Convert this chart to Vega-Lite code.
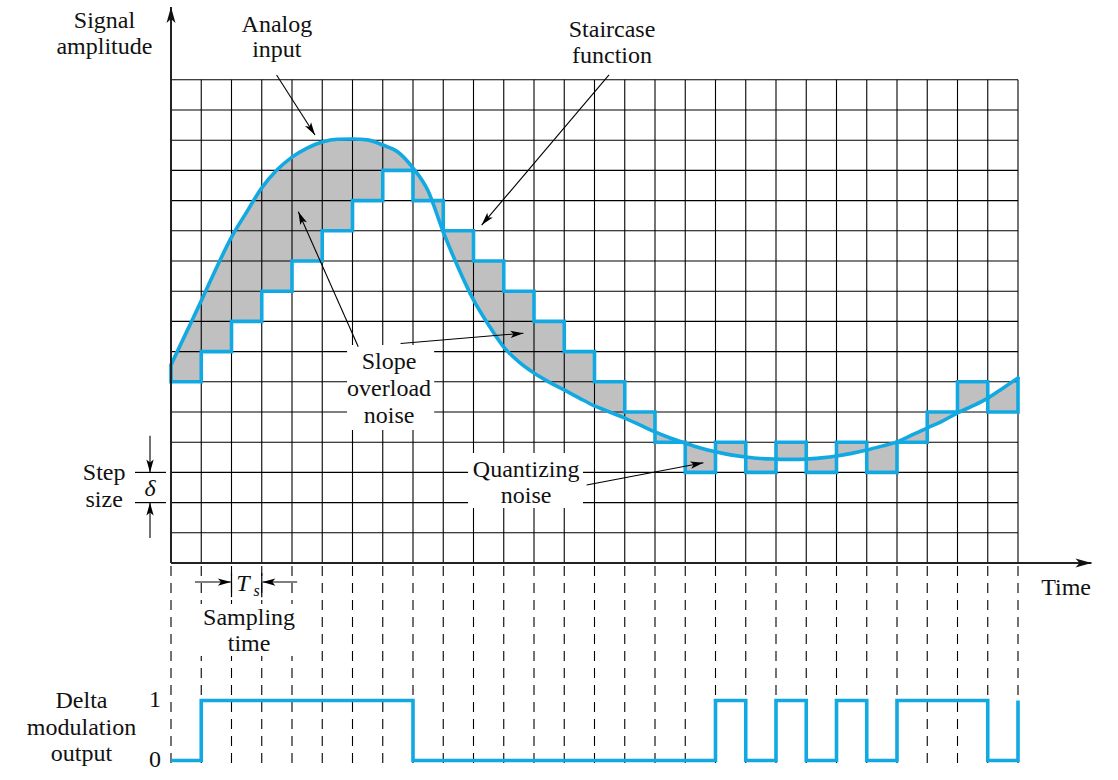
{
  "$schema": "https://vega.github.io/schema/vega-lite/v6.json",
  "width": 1118,
  "height": 780,
  "autosize": {"type": "none"},
  "padding": 0,
  "background": "white",
  "config": {"view": {"stroke": null}, "axis": {"disable": true}, "legend": {"disable": true}},
  "datasets": {
    "fill": [
      {"i":0,"t":0,"analog":6.56,"stair":6},{"i":1,"t":0.5,"analog":7.62,"stair":6},{"i":2,"t":1,"analog":8.68,"stair":6},{"i":3,"t":1,"analog":8.68,"stair":7},
      {"i":4,"t":1.5,"analog":9.77,"stair":7},{"i":5,"t":2,"analog":10.79,"stair":7},{"i":6,"t":2,"analog":10.79,"stair":8},{"i":7,"t":2.5,"analog":11.62,"stair":8},
      {"i":8,"t":3,"analog":12.42,"stair":8},{"i":9,"t":3,"analog":12.42,"stair":9},{"i":10,"t":3.5,"analog":13.01,"stair":9},{"i":11,"t":4,"analog":13.44,"stair":9},
      {"i":12,"t":4,"analog":13.44,"stair":10},{"i":13,"t":4.5,"analog":13.74,"stair":10},{"i":14,"t":5,"analog":13.94,"stair":10},{"i":15,"t":5,"analog":13.94,"stair":11},
      {"i":16,"t":5.5,"analog":14.03,"stair":11},{"i":17,"t":6,"analog":14.04,"stair":11},{"i":18,"t":6,"analog":14.04,"stair":12},{"i":19,"t":6.5,"analog":14.01,"stair":12},
      {"i":20,"t":7,"analog":13.84,"stair":12},{"i":21,"t":7,"analog":13.84,"stair":13},{"i":22,"t":7.5,"analog":13.61,"stair":13},{"i":23,"t":8,"analog":13.08,"stair":13},
      {"i":24,"t":8,"analog":13.08,"stair":12},{"i":25,"t":8.5,"analog":12.32,"stair":12},{"i":26,"t":9,"analog":10.96,"stair":12},{"i":27,"t":9,"analog":10.96,"stair":11},
      {"i":28,"t":9.5,"analog":9.77,"stair":11},{"i":29,"t":10,"analog":8.71,"stair":11},{"i":30,"t":10,"analog":8.71,"stair":10},{"i":31,"t":10.5,"analog":7.88,"stair":10},
      {"i":32,"t":11,"analog":7.15,"stair":10},{"i":33,"t":11,"analog":7.15,"stair":9},{"i":34,"t":11.5,"analog":6.66,"stair":9},{"i":35,"t":12,"analog":6.29,"stair":9},
      {"i":36,"t":12,"analog":6.29,"stair":8},{"i":37,"t":12.5,"analog":5.99,"stair":8},{"i":38,"t":13,"analog":5.73,"stair":8},{"i":39,"t":13,"analog":5.73,"stair":7},
      {"i":40,"t":13.5,"analog":5.46,"stair":7},{"i":41,"t":14,"analog":5.2,"stair":7},{"i":42,"t":14,"analog":5.2,"stair":6},{"i":43,"t":14.5,"analog":5.0,"stair":6},
      {"i":44,"t":15,"analog":4.8,"stair":6},{"i":45,"t":15,"analog":4.8,"stair":5},{"i":46,"t":15.5,"analog":4.57,"stair":5},{"i":47,"t":16,"analog":4.34,"stair":5},
      {"i":48,"t":16,"analog":4.34,"stair":4},{"i":49,"t":16.5,"analog":4.14,"stair":4},{"i":50,"t":17,"analog":3.97,"stair":4},{"i":51,"t":17,"analog":3.97,"stair":3},
      {"i":52,"t":17.5,"analog":3.81,"stair":3},{"i":53,"t":18,"analog":3.68,"stair":3},{"i":54,"t":18,"analog":3.68,"stair":4},{"i":55,"t":18.5,"analog":3.58,"stair":4},
      {"i":56,"t":19,"analog":3.51,"stair":4},{"i":57,"t":19,"analog":3.51,"stair":3},{"i":58,"t":19.5,"analog":3.46,"stair":3},{"i":59,"t":20,"analog":3.44,"stair":3},
      {"i":60,"t":20,"analog":3.44,"stair":4},{"i":61,"t":20.5,"analog":3.43,"stair":4},{"i":62,"t":21,"analog":3.44,"stair":4},{"i":63,"t":21,"analog":3.44,"stair":3},
      {"i":64,"t":21.5,"analog":3.48,"stair":3},{"i":65,"t":22,"analog":3.54,"stair":3},{"i":66,"t":22,"analog":3.54,"stair":4},{"i":67,"t":22.5,"analog":3.63,"stair":4},
      {"i":68,"t":23,"analog":3.74,"stair":4},{"i":69,"t":23,"analog":3.74,"stair":3},{"i":70,"t":23.5,"analog":3.87,"stair":3},{"i":71,"t":24,"analog":4.01,"stair":3},
      {"i":72,"t":24,"analog":4.01,"stair":4},{"i":73,"t":24.5,"analog":4.24,"stair":4},{"i":74,"t":25,"analog":4.47,"stair":4},{"i":75,"t":25,"analog":4.47,"stair":5},
      {"i":76,"t":25.5,"analog":4.7,"stair":5},{"i":77,"t":26,"analog":4.97,"stair":5},{"i":78,"t":26,"analog":4.97,"stair":6},{"i":79,"t":26.5,"analog":5.2,"stair":6},
      {"i":80,"t":27,"analog":5.46,"stair":6},{"i":81,"t":27,"analog":5.46,"stair":5},{"i":82,"t":27.5,"analog":5.79,"stair":5},{"i":83,"t":28,"analog":6.13,"stair":5}
    ],
    "analog": [
      {"t":0,"a":6.56},{"t":0.5,"a":7.62},{"t":1,"a":8.68},{"t":1.5,"a":9.77},{"t":2,"a":10.79},{"t":2.5,"a":11.62},{"t":3,"a":12.42},{"t":3.5,"a":13.01},
      {"t":4,"a":13.44},{"t":4.5,"a":13.74},{"t":5,"a":13.94},{"t":5.5,"a":14.03},{"t":6,"a":14.04},{"t":6.5,"a":14.01},{"t":7,"a":13.84},{"t":7.5,"a":13.61},
      {"t":8,"a":13.08},{"t":8.5,"a":12.32},{"t":9,"a":10.96},{"t":9.5,"a":9.77},{"t":10,"a":8.71},{"t":10.5,"a":7.88},{"t":11,"a":7.15},{"t":11.5,"a":6.66},
      {"t":12,"a":6.29},{"t":12.5,"a":5.99},{"t":13,"a":5.73},{"t":13.5,"a":5.46},{"t":14,"a":5.2},{"t":14.5,"a":5.0},{"t":15,"a":4.8},{"t":15.5,"a":4.57},
      {"t":16,"a":4.34},{"t":16.5,"a":4.14},{"t":17,"a":3.97},{"t":17.5,"a":3.81},{"t":18,"a":3.68},{"t":18.5,"a":3.58},{"t":19,"a":3.51},{"t":19.5,"a":3.46},
      {"t":20,"a":3.44},{"t":20.5,"a":3.43},{"t":21,"a":3.44},{"t":21.5,"a":3.48},{"t":22,"a":3.54},{"t":22.5,"a":3.63},{"t":23,"a":3.74},{"t":23.5,"a":3.87},
      {"t":24,"a":4.01},{"t":24.5,"a":4.24},{"t":25,"a":4.47},{"t":25.5,"a":4.7},{"t":26,"a":4.97},{"t":26.5,"a":5.2},{"t":27,"a":5.46},{"t":27.5,"a":5.79},{"t":28,"a":6.13}
    ],
    "stair": [
      {"i":0,"t":0,"s":6.56},{"i":1,"t":0,"s":6},{"i":2,"t":1,"s":7},{"i":3,"t":2,"s":8},{"i":4,"t":3,"s":9},{"i":5,"t":4,"s":10},{"i":6,"t":5,"s":11},
      {"i":7,"t":6,"s":12},{"i":8,"t":7,"s":13},{"i":9,"t":8,"s":12},{"i":10,"t":9,"s":11},{"i":11,"t":10,"s":10},{"i":12,"t":11,"s":9},{"i":13,"t":12,"s":8},
      {"i":14,"t":13,"s":7},{"i":15,"t":14,"s":6},{"i":16,"t":15,"s":5},{"i":17,"t":16,"s":4},{"i":18,"t":17,"s":3},{"i":19,"t":18,"s":4},{"i":20,"t":19,"s":3},
      {"i":21,"t":20,"s":4},{"i":22,"t":21,"s":3},{"i":23,"t":22,"s":4},{"i":24,"t":23,"s":3},{"i":25,"t":24,"s":4},{"i":26,"t":25,"s":5},{"i":27,"t":26,"s":6},
      {"i":28,"t":27,"s":5},{"i":29,"t":28,"s":6.13}
    ],
    "bits": [
      {"t":0,"b":0},{"t":1,"b":1},{"t":2,"b":1},{"t":3,"b":1},{"t":4,"b":1},{"t":5,"b":1},{"t":6,"b":1},{"t":7,"b":1},{"t":8,"b":0},{"t":9,"b":0},
      {"t":10,"b":0},{"t":11,"b":0},{"t":12,"b":0},{"t":13,"b":0},{"t":14,"b":0},{"t":15,"b":0},{"t":16,"b":0},{"t":17,"b":0},{"t":18,"b":1},{"t":19,"b":0},
      {"t":20,"b":1},{"t":21,"b":0},{"t":22,"b":1},{"t":23,"b":0},{"t":24,"b":1},{"t":25,"b":1},{"t":26,"b":1},{"t":27,"b":0},{"t":28,"b":1}
    ],
    "ticks": [
      {"t":0},{"t":1},{"t":2},{"t":3},{"t":4},{"t":5},{"t":6},{"t":7},{"t":8},{"t":9},{"t":10},{"t":11},{"t":12},{"t":13},{"t":14},
      {"t":15},{"t":16},{"t":17},{"t":18},{"t":19},{"t":20},{"t":21},{"t":22},{"t":23},{"t":24},{"t":25},{"t":26},{"t":27},{"t":28}
    ],
    "levels": [
      {"v":1},{"v":2},{"v":3},{"v":4},{"v":5},{"v":6},{"v":7},{"v":8},{"v":9},{"v":10},{"v":11},{"v":12},{"v":13},{"v":14},{"v":15},{"v":16}
    ],
    "boxes": [
      {"u1":5.82,"u2":8.7,"v1":7.22,"v2":4.4},
      {"u1":9.82,"u2":13.62,"v1":3.64,"v2":1.82},
      {"u1":0.83,"u2":4.26,"v1":-1.36,"v2":-3.08}
    ],
    "segs": [
      {"x1":-1.19,"y1":3,"x2":-0.165,"y2":3},
      {"x1":-1.19,"y1":2,"x2":-0.165,"y2":2},
      {"x1":2,"y1":-0.33,"x2":2,"y2":-1.13},
      {"x1":3,"y1":-0.33,"x2":3,"y2":-1.13}
    ],
    "arrows": [
      {"x1":3.49,"y1":16.16,"x2":4.76,"y2":14.17,"ang":147.4},
      {"x1":14.48,"y1":16.16,"x2":10.27,"y2":11.19,"ang":220.3},
      {"x1":6.19,"y1":7.16,"x2":4.21,"y2":11.63,"ang":336.1},
      {"x1":7.59,"y1":7.27,"x2":11.65,"y2":7.61,"ang":85.2},
      {"x1":13.74,"y1":2.58,"x2":17.6,"y2":3.32,"ang":79.2},
      {"x1":-0.694,"y1":4.21,"x2":-0.694,"y2":3.0,"ang":180},
      {"x1":-0.694,"y1":0.83,"x2":-0.694,"y2":2.0,"ang":0},
      {"x1":0.79,"y1":-0.63,"x2":1.98,"y2":-0.63,"ang":90},
      {"x1":4.17,"y1":-0.63,"x2":3.02,"y2":-0.63,"ang":270}
    ],
    "axes": [
      {"x1":0,"y1":0,"x2":0,"y2":18.41,"ang":0},
      {"x1":0,"y1":0,"x2":30.43,"y2":0,"ang":90}
    ],
    "labels": [
      {"text":"Signal","u":-2.2,"v":17.715},
      {"text":"amplitude","u":-2.2,"v":16.854},
      {"text":"Analog","u":3.5,"v":17.593},
      {"text":"input","u":3.5,"v":16.765},
      {"text":"Staircase","u":14.58,"v":17.43},
      {"text":"function","u":14.58,"v":16.556},
      {"text":"Slope","u":7.21,"v":6.424},
      {"text":"overload","u":7.21,"v":5.53},
      {"text":"noise","u":7.21,"v":4.636},
      {"text":"Quantizing","u":11.74,"v":2.848},
      {"text":"noise","u":11.74,"v":1.987},
      {"text":"Step","u":-2.21,"v":2.748},
      {"text":"size","u":-2.21,"v":1.854},
      {"text":"Time","u":29.59,"v":-1.06},
      {"text":"Sampling","u":2.58,"v":-2.053},
      {"text":"time","u":2.58,"v":-2.914},
      {"text":"Delta","u":-2.96,"v":-4.8},
      {"text":"modulation","u":-2.96,"v":-5.695},
      {"text":"output","u":-2.96,"v":-6.556},
      {"text":"1","u":-0.53,"v":-4.77},
      {"text":"0","u":-0.53,"v":-6.75}
    ],
    "italics": [
      {"text":"δ","u":-0.694,"v":2.22},
      {"text":"T","u":2.38,"v":-0.93}
    ],
    "subs": [
      {"text":"s","u":2.83,"v":-1.09}
    ]
  },
  "layer": [
    {
      "layer": [
        {
          "data": {"name": "fill"},
          "mark": {"type": "area", "color": "#c0c0c0", "fill": "#c0c0c0", "opacity": 1, "interpolate": "linear", "orient": "vertical"},
          "encoding": {
            "x": {"field": "t", "type": "quantitative", "scale": {"domain": [-5.6529, 31.3058], "nice": false, "zero": false}},
            "y": {"field": "analog", "type": "quantitative", "scale": {"domain": [-7.1854, 18.6424], "nice": false, "zero": false}},
            "y2": {"field": "stair"}
          }
        },
        {
          "data": {"name": "ticks"},
          "mark": {"type": "rule", "color": "#000000", "strokeWidth": 1.1},
          "encoding": {
            "x": {"field": "t", "type": "quantitative"},
            "y": {"datum": 0, "type": "quantitative"},
            "y2": {"datum": 16}
          }
        },
        {
          "data": {"name": "levels"},
          "mark": {"type": "rule", "color": "#000000", "strokeWidth": 1.1},
          "encoding": {
            "y": {"field": "v", "type": "quantitative"},
            "x": {"datum": 0, "type": "quantitative"},
            "x2": {"datum": 28}
          }
        },
        {
          "data": {"name": "ticks"},
          "mark": {"type": "rule", "color": "#000000", "strokeWidth": 1.1, "strokeDash": [10, 7]},
          "encoding": {
            "x": {"field": "t", "type": "quantitative"},
            "y": {"datum": -0.1, "type": "quantitative"},
            "y2": {"datum": -6.7}
          }
        },
        {
          "data": {"name": "boxes"},
          "mark": {"type": "rect", "color": "white", "opacity": 1},
          "encoding": {
            "x": {"field": "u1", "type": "quantitative"},
            "x2": {"field": "u2"},
            "y": {"field": "v1", "type": "quantitative"},
            "y2": {"field": "v2"}
          }
        },
        {
          "data": {"name": "analog"},
          "mark": {"type": "line", "color": "#12a9e3", "strokeWidth": 3.6, "interpolate": "monotone", "strokeCap": "round"},
          "encoding": {
            "x": {"field": "t", "type": "quantitative"},
            "y": {"field": "a", "type": "quantitative"}
          }
        },
        {
          "data": {"name": "stair"},
          "mark": {"type": "line", "color": "#12a9e3", "strokeWidth": 3.6, "interpolate": "step-after", "strokeJoin": "miter"},
          "encoding": {
            "x": {"field": "t", "type": "quantitative"},
            "y": {"field": "s", "type": "quantitative"},
            "order": {"field": "i"}
          }
        },
        {
          "data": {"name": "segs"},
          "mark": {"type": "rule", "color": "#000000", "strokeWidth": 1.2},
          "encoding": {
            "x": {"field": "x1", "type": "quantitative"},
            "x2": {"field": "x2"},
            "y": {"field": "y1", "type": "quantitative"},
            "y2": {"field": "y2"}
          }
        },
        {
          "data": {"name": "arrows"},
          "mark": {"type": "rule", "color": "#000000", "strokeWidth": 1.1},
          "encoding": {
            "x": {"field": "x1", "type": "quantitative"},
            "x2": {"field": "x2"},
            "y": {"field": "y1", "type": "quantitative"},
            "y2": {"field": "y2"}
          }
        },
        {
          "data": {"name": "arrows"},
          "mark": {"type": "point", "shape": "M0,0L-0.42,1.5L0,1.15L0.42,1.5Z", "filled": true, "color": "#000000", "opacity": 1, "size": 300, "strokeWidth": 0},
          "encoding": {
            "x": {"field": "x2", "type": "quantitative"},
            "y": {"field": "y2", "type": "quantitative"},
            "angle": {"field": "ang", "type": "quantitative", "scale": null}
          }
        },
        {
          "data": {"name": "axes"},
          "mark": {"type": "rule", "color": "#222222", "strokeWidth": 2},
          "encoding": {
            "x": {"field": "x1", "type": "quantitative"},
            "x2": {"field": "x2"},
            "y": {"field": "y1", "type": "quantitative"},
            "y2": {"field": "y2"}
          }
        },
        {
          "data": {"name": "axes"},
          "mark": {"type": "point", "shape": "M0,0L-0.45,1.6L0,1.2L0.45,1.6Z", "filled": true, "color": "#111111", "opacity": 1, "size": 400, "strokeWidth": 0},
          "encoding": {
            "x": {"field": "x2", "type": "quantitative"},
            "y": {"field": "y2", "type": "quantitative"},
            "angle": {"field": "ang", "type": "quantitative", "scale": null}
          }
        },
        {
          "data": {"name": "labels"},
          "mark": {"type": "text", "font": "Liberation Serif, Times New Roman, serif", "fontSize": 24, "align": "center", "baseline": "alphabetic", "color": "#111111"},
          "encoding": {
            "x": {"field": "u", "type": "quantitative"},
            "y": {"field": "v", "type": "quantitative"},
            "text": {"field": "text"}
          }
        },
        {
          "data": {"name": "italics"},
          "mark": {"type": "text", "font": "Liberation Serif, Times New Roman, serif", "fontSize": 24, "fontStyle": "italic", "align": "center", "baseline": "alphabetic", "color": "#111111"},
          "encoding": {
            "x": {"field": "u", "type": "quantitative"},
            "y": {"field": "v", "type": "quantitative"},
            "text": {"field": "text"}
          }
        },
        {
          "data": {"name": "subs"},
          "mark": {"type": "text", "font": "Liberation Serif, Times New Roman, serif", "fontSize": 16, "fontStyle": "italic", "align": "center", "baseline": "alphabetic", "color": "#111111"},
          "encoding": {
            "x": {"field": "u", "type": "quantitative"},
            "y": {"field": "v", "type": "quantitative"},
            "text": {"field": "text"}
          }
        }
      ]
    },
    {
      "data": {"name": "bits"},
      "mark": {"type": "line", "color": "#12a9e3", "strokeWidth": 3.6, "interpolate": "step-after", "strokeJoin": "miter"},
      "encoding": {
        "x": {"field": "t", "type": "quantitative"},
        "y": {"field": "b", "type": "quantitative", "scale": {"domain": [-0.325, 12.675], "nice": false, "zero": false}}
      }
    }
  ],
  "resolve": {"scale": {"y": "independent"}}
}
